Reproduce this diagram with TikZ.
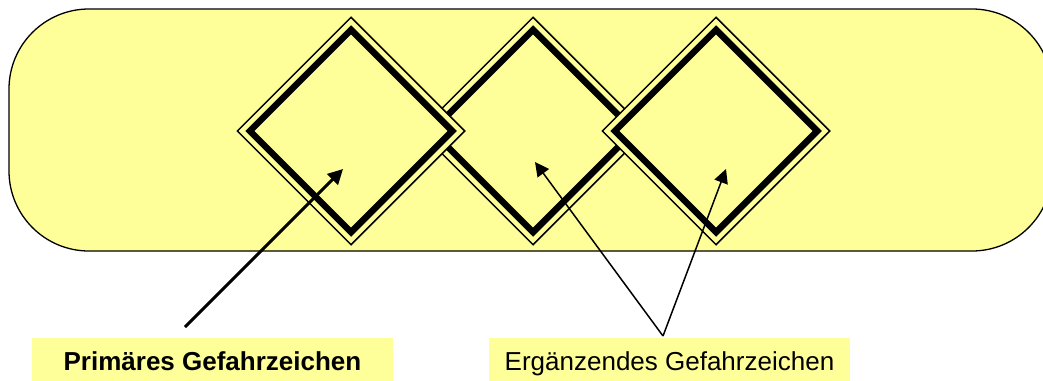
\documentclass[tikz,border=0pt]{standalone}
\usepackage{fontspec}
\setmainfont{Liberation Sans}
\usetikzlibrary{shapes.geometric,arrows.meta}
\definecolor{signyellow}{RGB}{255,255,153}
\begin{document}
\begin{tikzpicture}[x=1pt,y=-1pt,
  panel/.style={draw=black, line width=1.3pt, fill=signyellow, rounded corners=80pt},
  signrim/.style={diamond, draw=black, line width=1.5pt, fill=signyellow,
    inner sep=0pt, minimum width=228pt, minimum height=228pt, aspect=1},
  signcore/.style={diamond, draw=black, line width=6.5pt, miter limit=10,
    inner sep=0pt, minimum width=205pt, minimum height=205pt, aspect=1},
  caption/.style={fill=signyellow, minimum width=361pt, text height=32pt,
    text depth=12pt, inner ysep=0pt, inner xsep=0pt, anchor=north,
    font=\fontsize{26}{30}\selectfont},
  primary/.style={-{Triangle[length=15pt,width=15pt]}, line width=3pt},
  secondary/.style={-{Triangle[length=14pt,width=14pt]}, line width=1.5pt},
]
\useasboundingbox (0,0) rectangle (1043,380);

% background panel, running off the right edge
\draw[panel] (9,9) rectangle (1052,251);

% middle sign lies underneath its neighbours
\node[signrim] (sign2) at (533,131) {};
\node[signcore] (core2) at (sign2.center) {};
\node[signrim] (sign1) at (351,131) {};
\node[signcore] (core1) at (sign1.center) {};
\node[signrim] (sign3) at (716,131) {};
\node[signcore] (core3) at (sign3.center) {};

% captions
\node[caption] (primlabel) at (212.5,338) {\textbf{Primäres Gefahrzeichen}};
\node[caption] (extlabel) at (669.5,338) {Ergänzendes Gefahrzeichen};

% pointers
\coordinate (tail1) at (185,327);
\coordinate (tip1) at (343,169);
\coordinate (apex) at (663,336);
\coordinate (tip2) at (535,162);
\coordinate (tip3) at (726,169);
\draw[primary] (tail1) -- (tip1);
\draw[secondary] (apex) -- (tip2);
\draw[secondary] (apex) -- (tip3);
\end{tikzpicture}
\end{document}
